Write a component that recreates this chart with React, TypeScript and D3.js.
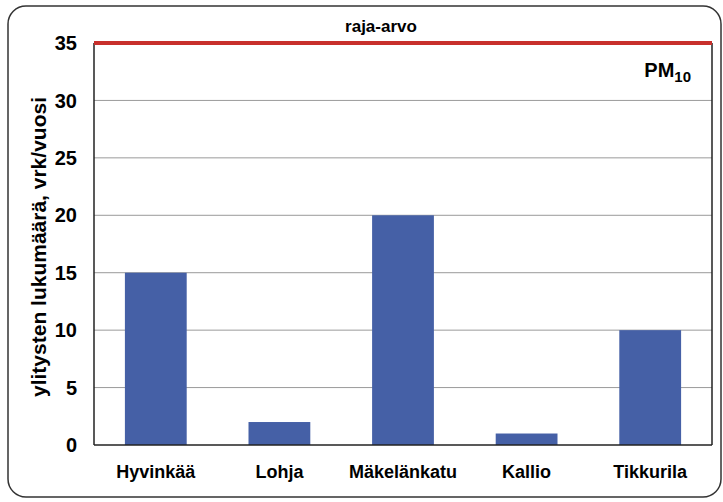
import React, { useEffect, useRef } from 'react';
import * as d3 from 'd3';

const stations = ['Hyvinkää', 'Lohja', 'Mäkelänkatu', 'Kallio', 'Tikkurila'];
const exceedDays = [15, 2, 20, 1, 10];
const yTicks = [0, 5, 10, 15, 20, 25, 30, 35];
const limitValue = 35;

export default function App() {
    const ref = useRef<SVGSVGElement>(null);

    useEffect(() => {
        const svg = d3.select(ref.current);
        svg.selectAll('*').remove();
        const margin = { top: 43, right: 11, bottom: 57, left: 94 };
        const width = 723 - margin.left - margin.right;
        const height = 502 - margin.top - margin.bottom;
        const font = 'Arial, "Liberation Sans", sans-serif';

        svg.append('rect')
            .attr('x', 8).attr('y', 6).attr('width', 713).attr('height', 491)
            .attr('rx', 18).attr('fill', '#fff').attr('stroke', '#333').attr('stroke-width', 1.5);

        const g = svg.append('g').attr('transform', `translate(${margin.left},${margin.top})`);

        const x = d3.scaleBand().domain(stations).range([0, width]).paddingInner(0.5).paddingOuter(0.25);
        const y = d3.scaleLinear().domain([0, 35]).range([height, 0]);

        // grid
        g.selectAll('.grid')
            .data(yTicks.filter(t => t > 0 && t < 35))
            .enter().append('line')
            .attr('x1', 0).attr('x2', width)
            .attr('y1', d => y(d)).attr('y2', d => y(d))
            .attr('stroke', '#9a9a9a').attr('stroke-width', 1);

        g.selectAll('.bar')
            .data(exceedDays)
            .enter().append('rect')
            .attr('x', (d, i) => x(stations[i])!)
            .attr('y', d => y(d))
            .attr('width', x.bandwidth())
            .attr('height', d => height - y(d))
            .attr('fill', '#4560a6');

        // frame lines
        g.append('line').attr('x1', 0).attr('x2', 0).attr('y1', 0).attr('y2', height)
            .attr('stroke', '#222').attr('stroke-width', 1.5);
        g.append('line').attr('x1', width).attr('x2', width).attr('y1', 0).attr('y2', height)
            .attr('stroke', '#222').attr('stroke-width', 1.5);
        g.append('line').attr('x1', 0).attr('x2', width).attr('y1', height).attr('y2', height)
            .attr('stroke', '#222').attr('stroke-width', 1.5);

        // limit line
        g.append('line').attr('x1', 0).attr('x2', width)
            .attr('y1', y(limitValue)).attr('y2', y(limitValue))
            .attr('stroke', '#c8302c').attr('stroke-width', 4);

        g.append('text')
            .attr('x', 287).attr('y', y(limitValue) - 11)
            .attr('text-anchor', 'middle')
            .style('font', `bold 17px ${font}`)
            .text('raja-arvo');

        const pm = g.append('text')
            .attr('x', width - 21).attr('y', 34)
            .attr('text-anchor', 'end')
            .style('font', `bold 20px ${font}`);
        pm.append('tspan').text('PM');
        pm.append('tspan').attr('dy', 5).style('font-size', '15px').text('10');

        g.selectAll('.ytick')
            .data(yTicks)
            .enter().append('text')
            .attr('x', -17).attr('y', d => y(d))
            .attr('dy', '0.36em')
            .attr('text-anchor', 'end')
            .style('font', `bold 20px ${font}`)
            .text(d => d);

        g.selectAll('.xtick')
            .data(stations)
            .enter().append('text')
            .attr('x', d => x(d)! + x.bandwidth() / 2)
            .attr('y', height + 33)
            .attr('text-anchor', 'middle')
            .style('font', `bold 18px ${font}`)
            .text(d => d);

        svg.append('text')
            .attr('transform', `translate(46,247) rotate(-90)`)
            .attr('text-anchor', 'middle')
            .style('font', `bold 21px ${font}`)
            .text('ylitysten lukumäärä, vrk/vuosi');
    }, []);

    return (
        <svg ref={ref} width={723} height={502} style={{ position: 'absolute', left: 0, top: 0 }} />
    );
}
